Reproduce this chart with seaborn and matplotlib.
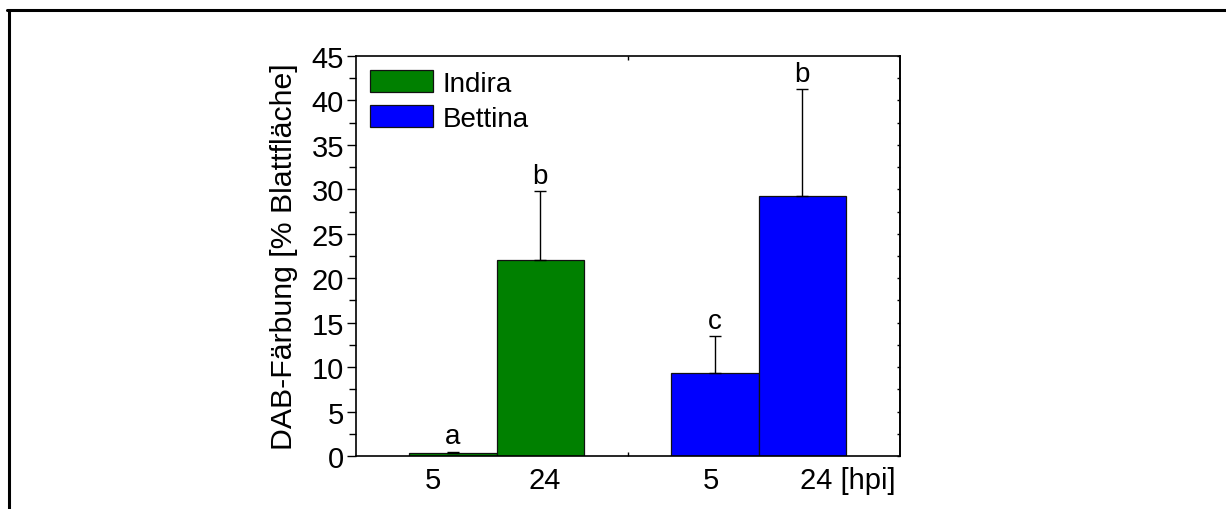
import numpy as np
import pandas as pd
import matplotlib
matplotlib.use("Agg")
import matplotlib.pyplot as plt
from matplotlib.patches import Patch
from matplotlib.lines import Line2D
import seaborn as sns

# --- data -------------------------------------------------------------
cultivars = ["Indira", "Indira", "Bettina", "Bettina"]
hours = ["5", "24", "5", "24"]
means = [0.3, 22.0, 9.3, 29.2]
errors = [0.2, 7.8, 4.2, 12.1]
letters = ["a", "b", "c", "b"]
x_labels = ["5", "24", "5", "24 [hpi]"]
y_ticks = [0, 5, 10, 15, 20, 25, 30, 35, 40, 45]
legend_names = ["Indira", "Bettina"]

# --- styling ----------------------------------------------------------
colors = {"Indira": "#008000", "Bettina": "#0000FF"}
FONT = ["Liberation Sans", "DejaVu Sans"]

sns.set_style("ticks")
plt.rcParams["font.family"] = FONT
plt.rcParams["axes.linewidth"] = 1.2
for key in ("text.color", "axes.labelcolor", "xtick.color", "ytick.color",
            "axes.edgecolor"):
    plt.rcParams[key] = "black"

# two bars per cultivar, one empty slot between the groups
group_idx = [legend_names.index(c) for c in cultivars]
hour_idx = [0 if h == "5" else 1 for h in hours]
pos = [g * 3 + h for g, h in zip(group_idx, hour_idx)]
label_shift = [-0.23, 0.055, -0.04, 0.52]

df = pd.DataFrame({"pos": pos, "value": means, "cultivar": cultivars})

fig = plt.figure(figsize=(12.26, 5.10), dpi=100)
ax = fig.add_axes([356 / 1226, 53 / 510, 544 / 1226, 400 / 510])

sns.barplot(data=df, x="pos", y="value", hue="cultivar", palette=colors,
            native_scale=True, dodge=False, width=1.0, saturation=1,
            errorbar=None, edgecolor="#111111", linewidth=0.9,
            legend=False, ax=ax)

# upper-only error bars
ax.errorbar(pos, means, yerr=[np.zeros(len(errors)), errors], fmt="none",
            ecolor="black", elinewidth=1.0, capsize=4, capthick=1.0)

# significance letters above the caps
for p, m, e, t in zip(pos, means, errors, letters):
    ax.annotate(t, xy=(p, m + e), xytext=(0, 1.5), textcoords="offset points",
                ha="center", va="bottom", fontsize=20, color="black")

ax.set_xlim(-1.11, 5.12)
ax.set_ylim(0, 45)

# y axis: outward ticks on the left
ax.set_yticks(y_ticks)
ax.set_yticks(np.arange(0, 45.1, 2.5), minor=True)
ax.tick_params(axis="y", which="major", direction="out", length=6.7, width=1.0,
               labelsize=21, pad=2, right=False)
ax.tick_params(axis="y", which="minor", direction="out", length=5.2, width=1.0,
               right=False)
ax.set_ylabel("DAB-Färbung [% Blattfläche]", fontsize=21.8, labelpad=9.5)

# right side: short inward ticks, no labels
sec = ax.secondary_yaxis("right")
sec.set_yticks(np.arange(0, 45.1, 2.5))
sec.tick_params(direction="in", length=2.5, width=1.0, labelright=False)
sec.set_yticklabels([])
sec.spines["right"].set_linewidth(1.2)

# x axis: text labels without marks, one divider tick between groups
ax.set_xticks([p + s for p, s in zip(pos, label_shift)])
ax.set_xticklabels(x_labels)
ax.set_xticks([2.0], minor=True)
ax.tick_params(axis="x", which="major", length=0, labelsize=21, pad=7)
ax.tick_params(axis="x", which="minor", direction="in", length=3, width=1.0,
               top=True, bottom=True)
ax.set_xlabel("")

for s in ax.spines.values():
    s.set_visible(True)
    s.set_linewidth(1.2)
    s.set_color("black")

handles = [Patch(facecolor=colors[n], edgecolor="#111111", linewidth=0.9, label=n)
           for n in legend_names]
ax.legend(handles=handles, loc="upper left",
          bbox_to_anchor=(14 / 544, 1 - 14 / 400), frameon=False,
          borderpad=0, borderaxespad=0, fontsize=20, handlelength=2.25,
          handleheight=0.86, handletextpad=0.36, labelspacing=0.29)

# outer frame lines (top and left)
fig.add_artist(Line2D([7 / 1226, 1], [1 - 11 / 510, 1 - 11 / 510],
                      transform=fig.transFigure, color="black", lw=2.2))
fig.add_artist(Line2D([8.5 / 1226, 8.5 / 1226], [0, 1 - 11 / 510],
                      transform=fig.transFigure, color="black", lw=2.2))

fig.savefig("out.png", dpi=100)
